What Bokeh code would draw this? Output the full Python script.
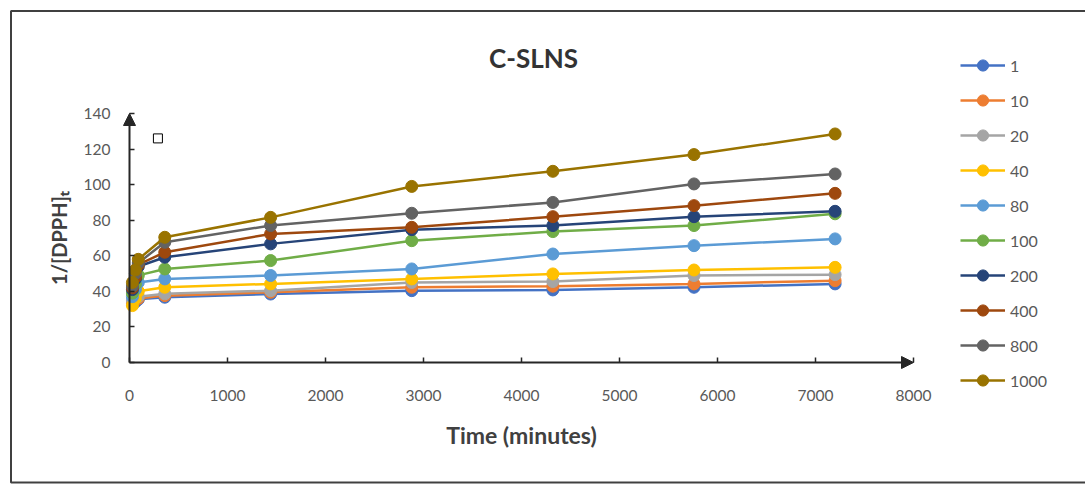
from bokeh.plotting import figure
from bokeh.models import (Range1d, Arrow, NormalHead, Legend, LegendItem, Label,
                          FixedTicker)
from bokeh.embed import file_html
from bokeh.resources import INLINE

# sampling times (minutes)
time_min = [30, 60, 90, 360, 1440, 2880, 4320, 5760, 7200]

# 1/[DPPH]t for each concentration
conc_1 = [33, 34, 35.5, 36.7, 38.5, 40.4, 40.8, 42.3, 44.2]
conc_10 = [34, 35, 36, 37.6, 39.5, 42.3, 42.9, 44.2, 46.0]
conc_20 = [35, 36, 37, 38.6, 40.4, 45.0, 45.5, 48.9, 49.4]
conc_40 = [32, 36, 40, 42.3, 44.2, 47.0, 49.8, 52.0, 53.5]
conc_80 = [37, 41, 45, 47.0, 48.9, 52.6, 61.0, 65.7, 69.5]
conc_100 = [39, 44, 49, 52.6, 57.3, 68.5, 73.6, 77.0, 83.6]
conc_200 = [41, 47, 54, 59.2, 66.7, 74.7, 77.0, 82.0, 85.0]
conc_400 = [42, 48, 55, 62.0, 72.3, 76.0, 82.0, 88.2, 95.1]
conc_800 = [43, 50, 56, 67.6, 77.0, 83.9, 90.0, 100.4, 106.0]
conc_1000 = [45, 52, 58, 70.4, 81.6, 99.0, 107.5, 116.9, 128.5]

series_labels = ["1", "10", "20", "40", "80", "100", "200", "400", "800", "1000"]
series_values = [conc_1, conc_10, conc_20, conc_40, conc_80, conc_100,
                 conc_200, conc_400, conc_800, conc_1000]
series_colors = ["#4472C4", "#ED7D31", "#A5A5A5", "#FFC000", "#5B9BD5",
                 "#70AD47", "#264478", "#9E480E", "#636363", "#997300"]

x_ticks = [0, 1000, 2000, 3000, 4000, 5000, 6000, 7000, 8000]
y_ticks = [0, 20, 40, 60, 80, 100, 120, 140]
x_max = 8000
y_max = 140

# small open square drawn near the top of the value axis
note_x = [290]
note_y = [126]

FONT = "Lato"
TEXT = "#595959"
AXIS = "#262626"

# page geometry: the plotting area spans the whole canvas, and the data
# axes sit inside it at fixed pixel positions
W, H = 1085, 484
AX_LEFT, AX_RIGHT = 129, 913      # pixel x of 0 and x_max
AX_BOTTOM, AX_TOP = 362, 113      # pixel y of 0 and y_max
sx = x_max / (AX_RIGHT - AX_LEFT)
sy = y_max / (AX_BOTTOM - AX_TOP)


def dx(px):
    return (px - AX_LEFT) * sx


def dy(py):
    return (AX_BOTTOM - py) * sy


p = figure(width=W, height=H,
           x_range=Range1d(dx(0), dx(W)), y_range=Range1d(dy(H), dy(0)),
           output_backend="svg", toolbar_location=None,
           min_border=0)
p.outline_line_color = None
p.grid.visible = False
p.background_fill_color = "white"
p.border_fill_color = "white"

# outer chart border
p.quad(left=[dx(10.5)], right=[dx(W + 20)], top=[dy(10.5)], bottom=[dy(482)],
       fill_color=None, line_color="#404040", line_width=2)

# axes pinned at the data origin
p.xaxis.fixed_location = 0
p.yaxis.fixed_location = 0
p.xaxis.bounds = (0, x_max)
p.yaxis.bounds = (0, y_max)
p.xaxis.ticker = FixedTicker(ticks=x_ticks)
p.yaxis.ticker = FixedTicker(ticks=y_ticks)
for ax in (p.xaxis, p.yaxis):
    ax.axis_line_color = None
    ax.major_tick_in = 5
    ax.major_tick_out = 0
    ax.major_tick_line_color = AXIS
    ax.major_tick_line_width = 1.5
    ax.minor_tick_line_color = None
    ax.major_label_text_font = FONT
    ax.major_label_text_font_size = "15.5px"
    ax.major_label_text_color = TEXT
    ax.axis_label_text_font = FONT
    ax.axis_label_text_font_style = "bold"
    ax.axis_label_text_color = "#404040"
p.xaxis.major_label_standoff = 27
p.xaxis.axis_label = "Time (minutes)"
p.xaxis.axis_label_text_font_size = "23px"
p.xaxis.axis_label_standoff = 17
p.yaxis.major_label_standoff = 19
p.yaxis.axis_label = "1/[DPPH]ₜ"
p.yaxis.axis_label_text_font_size = "20px"
p.yaxis.axis_label_standoff = 10

# axis lines with arrow heads
p.add_layout(Arrow(end=NormalHead(size=12, fill_color=AXIS, line_color=AXIS),
                   x_start=0, y_start=0, x_end=0, y_end=y_max,
                   line_color=AXIS, line_width=2))
p.add_layout(Arrow(end=NormalHead(size=12, fill_color=AXIS, line_color=AXIS),
                   x_start=0, y_start=0, x_end=x_max, y_end=0,
                   line_color=AXIS, line_width=2))

# series
items = []
for label, vals, color in zip(series_labels, series_values, series_colors):
    lr = p.line(time_min, vals, line_color=color, line_width=2.5)
    sr = p.scatter(time_min, vals, marker="circle", size=12,
                   fill_color=color, line_color=color)
    items.append(LegendItem(label=label, renderers=[lr, sr]))

p.scatter(note_x, note_y, marker="square", size=9, fill_color="white",
          line_color="black", line_width=1)

legend = Legend(items=items, location=(960, H - 394), orientation="vertical",
                glyph_width=45, glyph_height=28, label_height=28, spacing=7,
                padding=0, margin=0, label_standoff=5,
                border_line_color=None, background_fill_alpha=0,
                label_text_font=FONT, label_text_font_size="16px",
                label_text_color=TEXT)
p.add_layout(legend)

# chart title
p.add_layout(Label(x=dx(533), y=dy(57), text="C-SLNS", text_font=FONT,
                   text_font_size="26px", text_font_style="bold",
                   text_color="#333333", text_align="center",
                   text_baseline="middle"))

open("out.html", "w").write(file_html(p, INLINE))
